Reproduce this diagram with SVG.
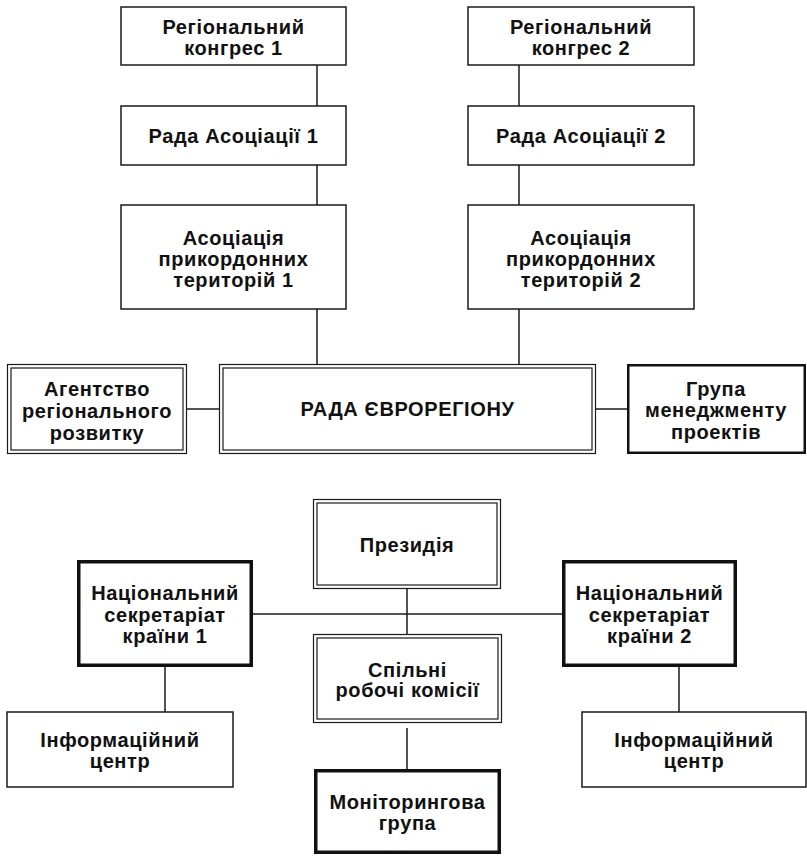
<svg xmlns="http://www.w3.org/2000/svg" width="807" height="856" viewBox="0 0 807 856">
<style>
.bg{fill:#fff}
.thin{fill:#fff;stroke:#1a1a1a;stroke-width:1.5}
.dbl{fill:none;stroke:#1a1a1a;stroke-width:1.2}
.thk{fill:#fff;stroke:#111;stroke-width:3.5}
.mid{fill:#fff;stroke:#111;stroke-width:2.5}
.con line{stroke:#1a1a1a;stroke-width:1.5}
text{font-family:"Liberation Sans",Arial,sans-serif;font-weight:bold;font-size:20px;letter-spacing:0.6px;fill:#111;text-anchor:middle}
</style>
<rect class="bg" x="0" y="0" width="807" height="856"/>
<g id="connectors" class="con">
<line x1="317" y1="65" x2="317" y2="106"/>
<line x1="317" y1="165" x2="317" y2="205"/>
<line x1="317" y1="309" x2="317" y2="364"/>
<line x1="519" y1="65" x2="519" y2="106"/>
<line x1="519" y1="165" x2="519" y2="205"/>
<line x1="519" y1="309" x2="519" y2="364"/>
<line x1="187" y1="409" x2="219" y2="409"/>
<line x1="596" y1="409" x2="627" y2="409"/>
<line x1="407" y1="589" x2="407" y2="634"/>
<line x1="253" y1="614" x2="562" y2="614"/>
<line x1="165" y1="667" x2="165" y2="712"/>
<line x1="679" y1="667" x2="679" y2="712"/>
<line x1="407" y1="728" x2="407" y2="769"/>
</g>
<g id="rk1"><rect class="thin" x="121" y="7" width="225" height="58"/><text x="233.5" y="34">Регіональний</text><text x="233.5" y="54.5">конгрес 1</text></g>
<g id="ra1"><rect class="thin" x="121" y="106" width="225" height="59"/><text x="233.5" y="143">Рада Асоціації 1</text></g>
<g id="ap1"><rect class="thin" x="121" y="205" width="225" height="104"/><text x="233.5" y="244.5">Асоціація</text><text x="233.5" y="265.5">прикордонних</text><text x="233.5" y="286.5">територій 1</text></g>
<g id="rk2"><rect class="thin" x="468" y="7" width="226" height="58"/><text x="581" y="34">Регіональний</text><text x="581" y="54.5">конгрес 2</text></g>
<g id="ra2"><rect class="thin" x="468" y="106" width="226" height="59"/><text x="581" y="143">Рада Асоціації 2</text></g>
<g id="ap2"><rect class="thin" x="468" y="205" width="226" height="104"/><text x="581" y="244.5">Асоціація</text><text x="581" y="265.5">прикордонних</text><text x="581" y="286.5">територій 2</text></g>
<g id="agency"><rect class="thin" x="7.5" y="364.5" width="179" height="89" style="stroke-width:1.2"/><rect class="dbl" x="11" y="368" width="172" height="82"/><text x="97" y="396">Агентство</text><text x="97" y="418">регіонального</text><text x="97" y="440">розвитку</text></g>
<g id="rada"><rect class="thin" x="219.5" y="364.5" width="376" height="89" style="stroke-width:1.2"/><rect class="dbl" x="223" y="368" width="369" height="82"/><text x="407.5" y="416">РАДА ЄВРОРЕГІОНУ</text></g>
<g id="group"><rect class="mid" x="628.25" y="365.25" width="176.5" height="87.5"/><text x="716" y="395.5">Група</text><text x="716" y="417">менеджменту</text><text x="716" y="438.5">проектів</text></g>
<g id="presidium"><rect class="thin" x="313.5" y="499.5" width="187" height="89" style="stroke-width:1.2"/><rect class="dbl" x="317" y="503" width="180" height="82"/><text x="407" y="551.5">Президія</text></g>
<g id="ns1"><rect class="thk" x="78.75" y="561.75" width="172.5" height="103.5"/><text x="165" y="600">Національний</text><text x="165" y="621.5">секретаріат</text><text x="165" y="643">країни 1</text></g>
<g id="ns2"><rect class="thk" x="563.75" y="561.75" width="171.5" height="103.5"/><text x="649.5" y="600">Національний</text><text x="649.5" y="621.5">секретаріат</text><text x="649.5" y="643">країни 2</text></g>
<g id="commissions"><rect class="thin" x="313.5" y="634.5" width="188" height="88" style="stroke-width:1.2"/><rect class="dbl" x="317" y="638" width="181" height="81"/><text x="407.5" y="676.5">Спільні</text><text x="407.5" y="697">робочі комісії</text></g>
<g id="info1"><rect class="thin" x="7" y="712" width="226" height="75"/><text x="120" y="747">Інформаційний</text><text x="120" y="768">центр</text></g>
<g id="info2"><rect class="thin" x="582" y="712" width="224" height="75"/><text x="694" y="747">Інформаційний</text><text x="694" y="768">центр</text></g>
<g id="monitoring"><rect class="thk" x="315.75" y="770.75" width="183.5" height="81.5"/><text x="407.5" y="809">Моніторингова</text><text x="407.5" y="830">група</text></g>
</svg>
